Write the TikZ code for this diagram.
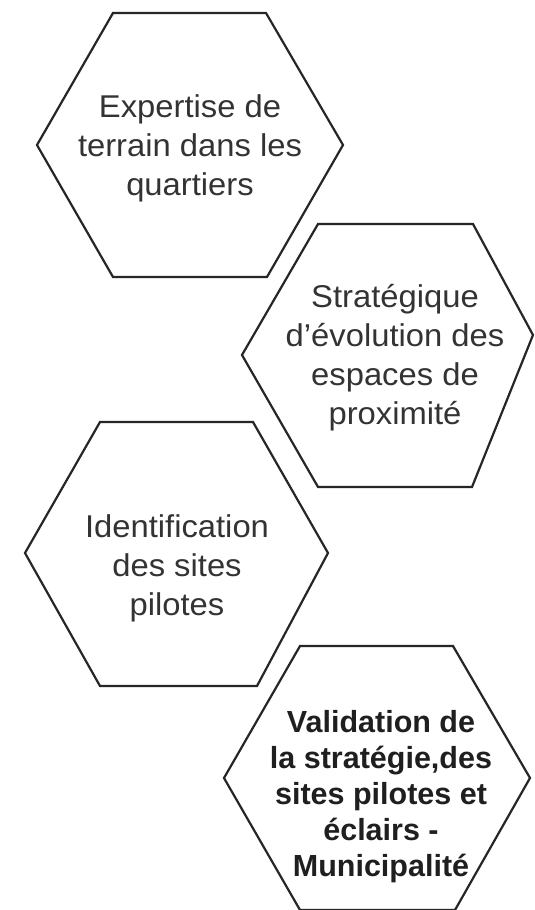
\documentclass[tikz,border=0pt]{standalone}
\usepackage{fontspec}
\setmainfont{Liberation Sans}
\newfontfamily\widesans[FakeStretch=1.04]{Liberation Sans}
\begin{document}
\begin{tikzpicture}[x=1pt,y=-1pt,
  hexline/.style={draw=black!85,line width=2.2pt,line join=miter},
  txt/.style={align=center,inner sep=0pt,text=black!80,font=\widesans\fontsize{31.5}{39}\selectfont},
  boldtxt/.style={align=center,inner sep=0pt,text=black!88,font=\fontsize{30.5}{36}\selectfont\bfseries}]
\clip (0,0) rectangle (535,910);
\fill[white] (0,0) rectangle (535,910);
% hexagon 1
\coordinate (h1a) at (37,145);
\coordinate (h1b) at (113,13);
\coordinate (h1c) at (266,13);
\coordinate (h1d) at (343,145);
\coordinate (h1e) at (267,277);
\coordinate (h1f) at (113,277);
\draw[hexline] (h1a) -- (h1b) -- (h1c) -- (h1d) -- (h1e) -- (h1f) -- cycle;
% hexagon 2
\coordinate (h2a) at (242,355);
\coordinate (h2b) at (318,224);
\coordinate (h2c) at (473,224);
\coordinate (h2d) at (533,335);
\coordinate (h2e) at (472,487);
\coordinate (h2f) at (318,487);
\draw[hexline] (h2a) -- (h2b) -- (h2c) -- (h2d) -- (h2e) -- (h2f) -- cycle;
% hexagon 3
\coordinate (h3a) at (25,553);
\coordinate (h3b) at (100,422);
\coordinate (h3c) at (253,422);
\coordinate (h3d) at (328,553);
\coordinate (h3e) at (257,686);
\coordinate (h3f) at (100,686);
\draw[hexline] (h3a) -- (h3b) -- (h3c) -- (h3d) -- (h3e) -- (h3f) -- cycle;
% hexagon 4
\coordinate (h4a) at (224,778);
\coordinate (h4b) at (300,646);
\coordinate (h4c) at (453,646);
\coordinate (h4d) at (530,778);
\coordinate (h4e) at (455,910);
\coordinate (h4f) at (300,910);
\draw[hexline] (h4a) -- (h4b) -- (h4c) -- (h4d) -- (h4e) -- (h4f) -- cycle;
% texts
\node[txt] (t1) at (190,148) {Expertise de\\terrain dans les\\quartiers};
\node[txt] (t2) at (395,358) {Stratégique\\d’évolution des\\espaces de\\proximité};
\node[txt] (t3) at (177,568) {Identification\\des sites\\pilotes};
\node[boldtxt] (t4) at (381,797) {Validation de\\la stratégie,des\\sites pilotes et\\éclairs -\\Municipalité};
\end{tikzpicture}
\end{document}
